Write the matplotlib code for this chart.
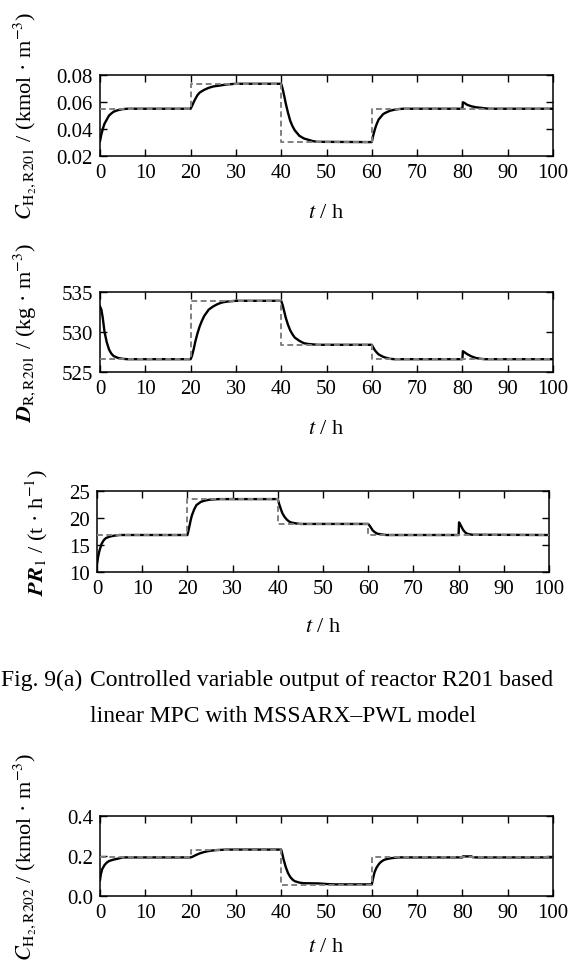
import matplotlib
matplotlib.use('Agg')
import matplotlib.pyplot as plt
from matplotlib.ticker import FormatStrFormatter

plt.rcParams['font.family'] = ['Liberation Serif', 'DejaVu Serif']
plt.rcParams['mathtext.fontset'] = 'stix'

W, H = 570, 962

# setpoint steps (gray dashed), same switching times for all panels
sp_t = [0, 20, 40, 60, 100]

# panel 1: C_H2,R201
c1_sp = [0.055, 0.0735, 0.0303, 0.055]
c1_t = [0, 0.3, 0.7, 1, 1.5, 2, 2.5, 3, 4, 5, 6, 20,
        20.3, 20.7, 21, 21.5, 22, 23, 24, 25, 26, 27, 28, 30, 40,
        40.3, 40.7, 41, 41.5, 42, 42.5, 43, 44, 45, 46, 47, 48, 60,
        60.3, 60.7, 61, 61.5, 62, 62.5, 63, 64, 65, 66, 67, 80,
        80.1, 80.5, 81, 82, 83, 84, 85, 86, 100]
c1_y = [0.031, 0.036, 0.041, 0.044, 0.047, 0.050, 0.0515, 0.0528, 0.054, 0.0547, 0.055, 0.055,
        0.057, 0.060, 0.062, 0.065, 0.067, 0.069, 0.0705, 0.0715, 0.072, 0.0725, 0.073, 0.0735, 0.0735,
        0.070, 0.064, 0.059, 0.052, 0.046, 0.042, 0.039, 0.035, 0.033, 0.032, 0.031, 0.0305, 0.0303,
        0.035, 0.040, 0.043, 0.047, 0.049, 0.051, 0.052, 0.0535, 0.0543, 0.0548, 0.055, 0.055,
        0.0598, 0.0592, 0.058, 0.0568, 0.0561, 0.0557, 0.0553, 0.055, 0.055]

# panel 2: D_R,R201
d1_sp = [526.6, 533.9, 528.4, 526.6]
d1_t = [0, 0.3, 0.6, 1, 1.5, 2, 2.5, 3, 4, 5, 6, 20,
        20.3, 20.7, 21, 21.5, 22, 22.5, 23, 24, 25, 26, 27, 28, 30, 40,
        40.3, 40.7, 41, 41.5, 42, 42.5, 43, 44, 45, 46, 48, 60,
        60.3, 60.7, 61, 61.5, 62, 62.5, 63, 64, 65, 80,
        80.1, 80.5, 81, 82, 83, 84, 85, 100]
d1_y = [533.2, 532.8, 531.8, 530.0, 528.7, 527.8, 527.3, 527.0, 526.75, 526.65, 526.6, 526.6,
        527.0, 527.9, 528.7, 529.8, 530.7, 531.4, 532.0, 532.8, 533.2, 533.5, 533.7, 533.8, 533.9, 533.9,
        533.4, 532.5, 531.8, 530.9, 530.2, 529.7, 529.3, 528.9, 528.6, 528.5, 528.4, 528.4,
        528.1, 527.7, 527.5, 527.2, 527.05, 526.9, 526.8, 526.65, 526.6, 526.6,
        527.6, 527.45, 527.25, 526.95, 526.75, 526.65, 526.6, 526.6]

# panel 3: PR_1
p1_sp = [16.85, 23.5, 18.9, 16.85]
p1_t = [0, 0.2, 0.5, 1, 1.5, 2, 3, 4, 5, 20,
        20.3, 20.7, 21, 21.5, 22, 23, 24, 25, 27, 40,
        40.3, 40.7, 41, 41.5, 42, 42.5, 43, 44, 45, 60,
        60.3, 60.7, 61, 61.5, 62, 63, 64, 80,
        80.1, 80.5, 81, 81.5, 82, 83, 100]
p1_y = [11.3, 12.6, 13.8, 15.2, 15.9, 16.3, 16.6, 16.75, 16.85, 16.85,
        17.9, 19.5, 20.5, 21.6, 22.4, 23.0, 23.25, 23.4, 23.5, 23.5,
        22.6, 21.6, 20.9, 20.2, 19.7, 19.35, 19.15, 19.0, 18.9, 18.9,
        18.6, 18.1, 17.7, 17.35, 17.1, 16.95, 16.85, 16.85,
        19.2, 18.6, 17.8, 17.3, 17.05, 16.9, 16.85]

# panel 4: C_H2,R202
c2_sp = [0.193, 0.232, 0.057, 0.193]
c2_t = [0, 0.2, 0.5, 1, 1.5, 2, 3, 4, 5, 20,
        20.5, 21, 21.5, 22, 23, 24, 25, 26, 28, 40,
        40.2, 40.5, 41, 41.5, 42, 42.5, 43, 44, 45, 48, 50, 52, 60,
        60.3, 60.6, 61, 61.5, 62, 62.5, 63, 64, 65, 66, 80,
        80.1, 82, 82.3, 83, 100]
c2_y = [0.08, 0.11, 0.135, 0.155, 0.167, 0.175, 0.182, 0.187, 0.193, 0.193,
        0.197, 0.203, 0.208, 0.213, 0.22, 0.225, 0.228, 0.23, 0.232, 0.232,
        0.215, 0.185, 0.145, 0.115, 0.095, 0.082, 0.074, 0.067, 0.064, 0.063, 0.06, 0.058, 0.058,
        0.09, 0.118, 0.14, 0.158, 0.17, 0.178, 0.183, 0.188, 0.191, 0.193, 0.193,
        0.198, 0.198, 0.194, 0.193, 0.193]

xticks = [0, 10, 20, 30, 40, 50, 60, 70, 80, 90, 100]
xlabel = r'$t$ / h'


def rect(left, top, right, bottom):
    return [left / W, 1 - bottom / H, (right - left) / W, (bottom - top) / H]


def draw_panel(fig, box, t, y, sp, ylim, yticks, fmt, ylabel, ylab_x, xlab_y):
    ax = fig.add_axes(rect(*box))
    left, top, right, bottom = box
    ax.plot(t, y, color='black', lw=1.7, zorder=2)
    ax.plot(sp_t, sp + [sp[-1]], drawstyle='steps-post', color='#808080',
            lw=1.4, dashes=(3.0, 1.8), zorder=3)
    ax.set_xlim(0, 100)
    ax.set_ylim(*ylim)
    ax.set_xticks(xticks)
    ax.set_yticks(yticks)
    ax.yaxis.set_major_formatter(FormatStrFormatter(fmt))
    ax.tick_params(direction='in', top=True, right=True, length=5, width=1,
                   labelsize=15, pad=5)
    for s in ax.spines.values():
        s.set_linewidth(1.1)
    ax.set_xlabel(xlabel, fontsize=16, va='center')
    ax.xaxis.set_label_coords(0.5, (bottom - xlab_y) / (bottom - top))
    ax.set_ylabel(ylabel, fontsize=16, va='center')
    ax.yaxis.set_label_coords((ylab_x - left) / (right - left), 0.5)
    return ax


fig = plt.figure(figsize=(W / 100, H / 100), dpi=100)

draw_panel(fig, (100, 76, 553, 157), c1_t, c1_y, c1_sp, (0.02, 0.08),
           [0.02, 0.04, 0.06, 0.08], '%.2f',
           r'$C_{\mathrm{H_2,R201}}$ / (kmol · m$^{-3}$)', 25, 213)
draw_panel(fig, (100, 293, 553, 373), d1_t, d1_y, d1_sp, (525, 535),
           [525, 530, 535], '%d',
           r'$\mathbfit{D}_{\mathrm{R,R201}}$ / (kg · m$^{-3}$)', 25, 430)
draw_panel(fig, (97, 492, 549, 573), p1_t, p1_y, p1_sp, (10, 25),
           [10, 15, 20, 25], '%d',
           r'$\mathbfit{PR}_{1}$ / (t · h$^{-1}$)', 37, 628)
draw_panel(fig, (100, 817, 553, 897), c2_t, c2_y, c2_sp, (0.0, 0.4),
           [0.0, 0.2, 0.4], '%.1f',
           r'$C_{\mathrm{H_2,R202}}$ / (kmol · m$^{-3}$)', 25, 948)

# caption of group (a)
fig.text(1 / W, 1 - 686 / H, 'Fig. 9(a)', fontsize=17, ha='left', va='baseline')
fig.text(90 / W, 1 - 686 / H, 'Controlled variable output of reactor R201 based',
         fontsize=17, ha='left', va='baseline')
fig.text(90 / W, 1 - 722 / H, 'linear MPC with MSSARX–PWL model',
         fontsize=17, ha='left', va='baseline')

fig.savefig('out.png', dpi=100)
